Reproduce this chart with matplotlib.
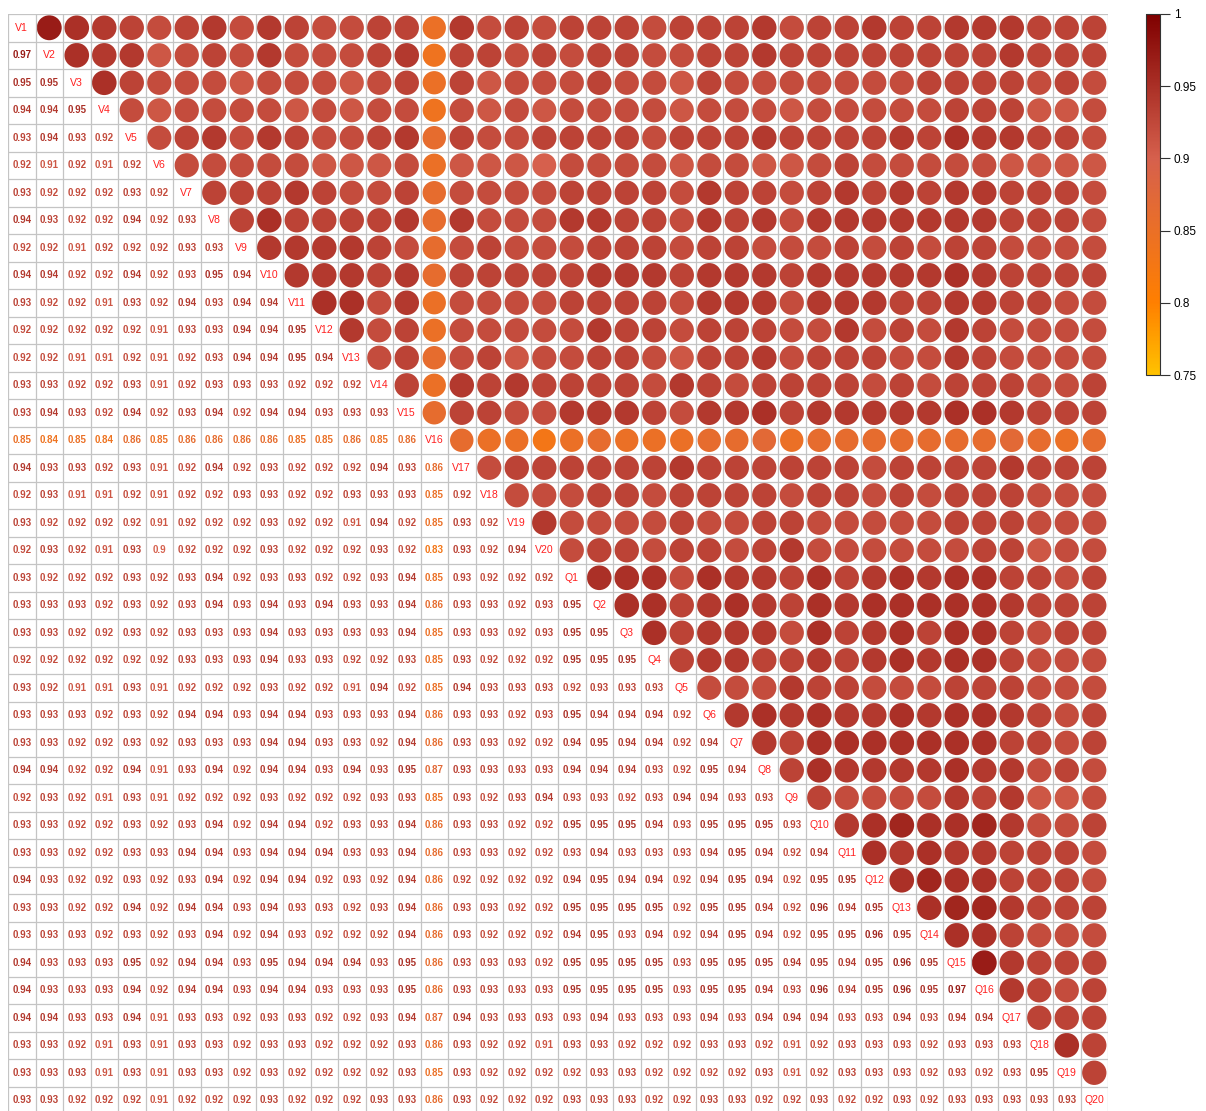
import numpy as np
import matplotlib
matplotlib.use("Agg")
import matplotlib.pyplot as plt
from matplotlib.colors import LinearSegmentedColormap, Normalize
from matplotlib.patches import Circle
from matplotlib.cm import ScalarMappable

plt.rcParams['font.family'] = ['Liberation Sans', 'DejaVu Sans']

labels = [f"V{k}" for k in range(1, 21)] + [f"Q{k}" for k in range(1, 21)]

# Lower-triangle correlations, rows V2..V20 (each row lists columns 1..row-1)
v_block = [
    [0.97],
    [0.95, 0.95],
    [0.94, 0.94, 0.95],
    [0.93, 0.94, 0.93, 0.92],
    [0.92, 0.91, 0.92, 0.91, 0.92],
    [0.93, 0.92, 0.92, 0.92, 0.93, 0.92],
    [0.94, 0.93, 0.92, 0.92, 0.94, 0.92, 0.93],
    [0.92, 0.92, 0.91, 0.92, 0.92, 0.92, 0.93, 0.93],
    [0.94, 0.94, 0.92, 0.92, 0.94, 0.92, 0.93, 0.95, 0.94],
    [0.93, 0.92, 0.92, 0.91, 0.93, 0.92, 0.94, 0.93, 0.94, 0.94],
    [0.92, 0.92, 0.92, 0.92, 0.92, 0.91, 0.93, 0.93, 0.94, 0.94, 0.95],
    [0.92, 0.92, 0.91, 0.91, 0.92, 0.91, 0.92, 0.93, 0.94, 0.94, 0.95, 0.94],
    [0.93, 0.93, 0.92, 0.92, 0.93, 0.91, 0.92, 0.93, 0.93, 0.93, 0.92, 0.92, 0.92],
    [0.93, 0.94, 0.93, 0.92, 0.94, 0.92, 0.93, 0.94, 0.92, 0.94, 0.94, 0.93, 0.93, 0.93],
    [0.85, 0.84, 0.85, 0.84, 0.86, 0.85, 0.86, 0.86, 0.86, 0.86, 0.85, 0.85, 0.86, 0.85, 0.86],
    [0.94, 0.93, 0.93, 0.92, 0.93, 0.91, 0.92, 0.94, 0.92, 0.93, 0.92, 0.92, 0.92, 0.94, 0.93, 0.86],
    [0.92, 0.93, 0.91, 0.91, 0.92, 0.91, 0.92, 0.92, 0.93, 0.93, 0.92, 0.92, 0.93, 0.93, 0.93, 0.85, 0.92],
    [0.93, 0.92, 0.92, 0.92, 0.92, 0.91, 0.92, 0.92, 0.92, 0.93, 0.92, 0.92, 0.91, 0.94, 0.92, 0.85, 0.93, 0.92],
    [0.92, 0.93, 0.92, 0.91, 0.93, 0.90, 0.92, 0.92, 0.92, 0.93, 0.92, 0.92, 0.92, 0.93, 0.92, 0.83, 0.93, 0.92, 0.94],
]

# Lower-triangle correlations, rows Q1..Q20
q_block = [
    [0.93, 0.92, 0.92, 0.92, 0.93, 0.92, 0.93, 0.94, 0.92, 0.93, 0.93, 0.92, 0.92, 0.93, 0.94, 0.85, 0.93, 0.92, 0.92, 0.92],
    [0.93, 0.93, 0.93, 0.92, 0.93, 0.92, 0.93, 0.94, 0.93, 0.94, 0.93, 0.94, 0.93, 0.93, 0.94, 0.86, 0.93, 0.93, 0.92, 0.93,
     0.95],
    [0.93, 0.93, 0.92, 0.92, 0.93, 0.92, 0.93, 0.93, 0.93, 0.94, 0.93, 0.93, 0.93, 0.93, 0.94, 0.85, 0.93, 0.93, 0.92, 0.93,
     0.95, 0.95],
    [0.92, 0.92, 0.92, 0.92, 0.92, 0.92, 0.93, 0.93, 0.93, 0.94, 0.93, 0.93, 0.92, 0.92, 0.93, 0.85, 0.93, 0.92, 0.92, 0.92,
     0.95, 0.95, 0.95],
    [0.93, 0.92, 0.91, 0.91, 0.93, 0.91, 0.92, 0.92, 0.92, 0.93, 0.92, 0.92, 0.91, 0.94, 0.92, 0.85, 0.94, 0.93, 0.93, 0.93,
     0.92, 0.93, 0.93, 0.93],
    [0.93, 0.93, 0.93, 0.92, 0.93, 0.92, 0.94, 0.94, 0.93, 0.94, 0.94, 0.93, 0.93, 0.93, 0.94, 0.86, 0.93, 0.93, 0.92, 0.93,
     0.95, 0.94, 0.94, 0.94, 0.92],
    [0.93, 0.93, 0.92, 0.92, 0.93, 0.92, 0.93, 0.93, 0.93, 0.94, 0.94, 0.93, 0.93, 0.92, 0.94, 0.86, 0.93, 0.93, 0.92, 0.92,
     0.94, 0.95, 0.94, 0.94, 0.92, 0.94],
    [0.94, 0.94, 0.92, 0.92, 0.94, 0.91, 0.93, 0.94, 0.92, 0.94, 0.94, 0.93, 0.94, 0.93, 0.95, 0.87, 0.93, 0.93, 0.93, 0.93,
     0.94, 0.94, 0.94, 0.93, 0.92, 0.95, 0.94],
    [0.92, 0.93, 0.92, 0.91, 0.93, 0.91, 0.92, 0.92, 0.92, 0.93, 0.92, 0.92, 0.92, 0.93, 0.93, 0.85, 0.93, 0.92, 0.93, 0.94,
     0.93, 0.93, 0.92, 0.93, 0.94, 0.94, 0.93, 0.93],
    [0.93, 0.93, 0.92, 0.92, 0.93, 0.92, 0.93, 0.94, 0.92, 0.94, 0.94, 0.92, 0.93, 0.93, 0.94, 0.86, 0.93, 0.93, 0.92, 0.92,
     0.95, 0.95, 0.95, 0.94, 0.93, 0.95, 0.95, 0.95, 0.93],
    [0.93, 0.93, 0.92, 0.92, 0.93, 0.93, 0.94, 0.94, 0.93, 0.94, 0.94, 0.94, 0.93, 0.93, 0.94, 0.86, 0.93, 0.93, 0.92, 0.92,
     0.93, 0.94, 0.93, 0.93, 0.93, 0.94, 0.95, 0.94, 0.92, 0.94],
    [0.94, 0.93, 0.92, 0.92, 0.93, 0.92, 0.93, 0.94, 0.92, 0.94, 0.94, 0.92, 0.93, 0.92, 0.94, 0.86, 0.92, 0.92, 0.92, 0.92,
     0.94, 0.95, 0.94, 0.94, 0.92, 0.94, 0.95, 0.94, 0.92, 0.95, 0.95],
    [0.93, 0.93, 0.92, 0.92, 0.94, 0.92, 0.94, 0.94, 0.93, 0.94, 0.93, 0.93, 0.92, 0.93, 0.94, 0.86, 0.93, 0.93, 0.92, 0.92,
     0.95, 0.95, 0.95, 0.95, 0.92, 0.95, 0.95, 0.94, 0.92, 0.96, 0.94, 0.95],
    [0.93, 0.93, 0.93, 0.92, 0.93, 0.92, 0.93, 0.94, 0.92, 0.94, 0.93, 0.92, 0.92, 0.92, 0.94, 0.86, 0.93, 0.92, 0.92, 0.92,
     0.94, 0.95, 0.93, 0.94, 0.92, 0.94, 0.95, 0.94, 0.92, 0.95, 0.95, 0.96, 0.95],
    [0.94, 0.93, 0.93, 0.93, 0.95, 0.92, 0.94, 0.94, 0.93, 0.95, 0.94, 0.94, 0.94, 0.93, 0.95, 0.86, 0.93, 0.93, 0.93, 0.92,
     0.95, 0.95, 0.95, 0.95, 0.93, 0.95, 0.95, 0.95, 0.94, 0.95, 0.94, 0.95, 0.96, 0.95],
    [0.94, 0.93, 0.93, 0.93, 0.94, 0.92, 0.94, 0.94, 0.93, 0.94, 0.94, 0.93, 0.93, 0.93, 0.95, 0.86, 0.93, 0.93, 0.93, 0.93,
     0.95, 0.95, 0.95, 0.95, 0.93, 0.95, 0.95, 0.94, 0.93, 0.96, 0.94, 0.95, 0.96, 0.95, 0.97],
    [0.94, 0.94, 0.93, 0.93, 0.94, 0.91, 0.93, 0.93, 0.92, 0.93, 0.93, 0.92, 0.92, 0.93, 0.94, 0.87, 0.94, 0.93, 0.93, 0.93,
     0.93, 0.94, 0.93, 0.93, 0.93, 0.94, 0.93, 0.94, 0.94, 0.94, 0.93, 0.93, 0.94, 0.93, 0.94, 0.94],
    [0.93, 0.93, 0.92, 0.91, 0.93, 0.91, 0.93, 0.93, 0.92, 0.93, 0.93, 0.92, 0.92, 0.92, 0.93, 0.86, 0.93, 0.92, 0.92, 0.91,
     0.93, 0.93, 0.92, 0.92, 0.92, 0.93, 0.93, 0.92, 0.91, 0.92, 0.93, 0.93, 0.93, 0.92, 0.93, 0.93, 0.93],
    [0.93, 0.93, 0.93, 0.91, 0.93, 0.91, 0.93, 0.93, 0.92, 0.93, 0.92, 0.92, 0.92, 0.92, 0.93, 0.85, 0.93, 0.92, 0.92, 0.92,
     0.92, 0.93, 0.93, 0.92, 0.92, 0.92, 0.92, 0.93, 0.91, 0.92, 0.93, 0.93, 0.93, 0.92, 0.93, 0.92, 0.93, 0.95],
    [0.93, 0.93, 0.92, 0.92, 0.92, 0.91, 0.92, 0.92, 0.92, 0.93, 0.92, 0.92, 0.92, 0.93, 0.93, 0.86, 0.93, 0.92, 0.92, 0.92,
     0.93, 0.93, 0.93, 0.92, 0.92, 0.93, 0.93, 0.92, 0.92, 0.93, 0.92, 0.92, 0.93, 0.92, 0.93, 0.93, 0.93, 0.93, 0.93],
]

cbar_ticks = [0.75, 0.8, 0.85, 0.9, 0.95, 1.0]
cbar_ticklabels = ["0.75", "0.8", "0.85", "0.9", "0.95", "1"]

# Build the full symmetric matrix
n = len(labels)
M = np.eye(n)
for i, row in enumerate([[]] + v_block + q_block):
    for j, v in enumerate(row):
        M[i, j] = v
        M[j, i] = v

vmin, vmax = 0.75, 1.0
norm = Normalize(vmin, vmax)
stops = [(0.75, "#FFC200"), (0.80, "#FF7F00"), (0.90, "#D6604D"), (1.00, "#7F0000")]
cmap = LinearSegmentedColormap.from_list(
    "corr", [((v - vmin) / (vmax - vmin), c) for v, c in stops])

W, H = 1206, 1111
fig = plt.figure(figsize=(W / 100, H / 100), dpi=100)
ax = fig.add_axes([8 / W, (H - 1114) / H, 1100 / W, 1100 / H])
ax.set_xlim(-0.5, n - 0.5)
ax.set_ylim(n - 0.5, -0.5)
ax.set_aspect('auto')
ax.axis('off')

for i in range(n):
    for j in range(n):
        r = M[i, j]
        col = cmap(norm(r))
        if i == j:
            ax.text(j, i, labels[i], ha='center', va='center', color='#FF2020',
                    fontsize=7.6)
        elif j > i:
            ax.add_patch(Circle((j, i), 0.46 * np.sqrt(abs(r)), facecolor=col,
                                edgecolor='none', zorder=2))
        else:
            ax.text(j, i, f"{r:.2f}".rstrip('0').rstrip('.') if f"{r:.2f}".endswith('0') else f"{r:.2f}",
                    ha='center', va='center', color=col, fontsize=7.0,
                    fontweight='bold')

for k in range(n + 1):
    ax.plot([-0.5, n - 0.5], [k - 0.5, k - 0.5], color='#C4C4C4', lw=0.9, zorder=3)
    ax.plot([k - 0.5, k - 0.5], [-0.5, n - 0.5], color='#C4C4C4', lw=0.9, zorder=3)

cax = fig.add_axes([1146 / W, (H - 375) / H, 14 / W, 361 / H])
sm = ScalarMappable(norm=norm, cmap=cmap)
cb = fig.colorbar(sm, cax=cax, ticks=cbar_ticks)
cb.ax.set_yticklabels(cbar_ticklabels)
cb.ax.tick_params(length=7, width=0.8, labelsize=8.5, pad=3, color='#333333')
cb.outline.set_linewidth(0.8)
cb.outline.set_edgecolor('#333333')

fig.savefig("out.png", dpi=100)
